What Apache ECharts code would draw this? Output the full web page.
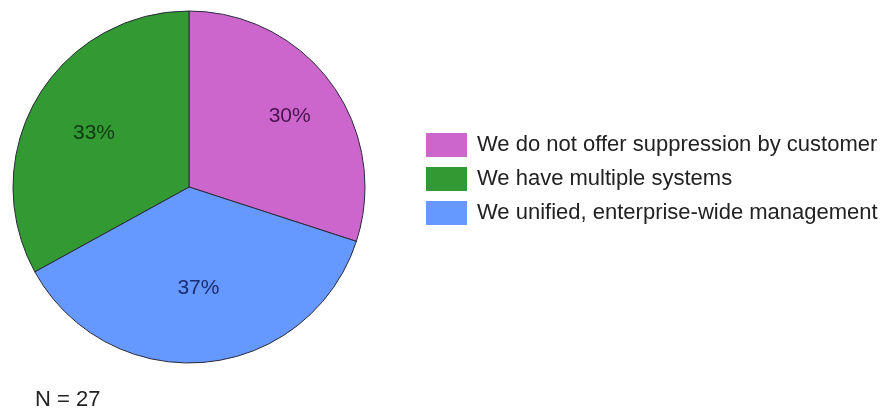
<!DOCTYPE html>
<html>
<head>
<meta charset="utf-8">
<script src="https://cdn.jsdelivr.net/npm/echarts@6/dist/echarts.min.js"></script>
<style>
  html, body { margin: 0; padding: 0; background: #ffffff; }
  #chart { width: 889px; height: 413px; }
</style>
</head>
<body>
<div id="chart"></div>
<script>
// Survey answers, in slice order (clockwise from 12 o'clock)
const categories = [
  'We do not offer suppression by customer',
  'We unified, enterprise-wide management',
  'We have multiple systems'
];
const shares = [30, 37, 33];
const legendOrder = [
  'We do not offer suppression by customer',
  'We have multiple systems',
  'We unified, enterprise-wide management'
];
const sampleNote = 'N = 27';

// Styling per slice
const sliceColors = ['#cc66cc', '#6699ff', '#339933'];
const labelColors = ['#4a1450', '#1a2c6e', '#0f3a12'];
const labelRadiusFraction = [0.69, 0.55, 0.61];

const outerRadius = 176;
const total = shares.reduce((a, b) => a + b, 0);

// Shift each percentage label outward along its slice's mid angle
let acc = 0;
const pieData = categories.map((name, i) => {
  const mid = (acc + shares[i] / 2) / total * 2 * Math.PI;
  acc += shares[i];
  const extra = outerRadius * (labelRadiusFraction[i] - 0.5);
  return {
    name: name,
    value: shares[i],
    itemStyle: { color: sliceColors[i] },
    label: {
      color: labelColors[i],
      offset: [extra * Math.sin(mid), -extra * Math.cos(mid) + 2]
    }
  };
});

const chart = echarts.init(document.getElementById('chart'), null, { renderer: 'canvas' });
chart.setOption({
  animation: false,
  title: {
    text: sampleNote,
    left: 35,
    top: 389,
    padding: 0,
    textStyle: {
      fontFamily: 'Liberation Sans, Arial, sans-serif',
      fontSize: 22,
      fontWeight: 'normal',
      color: '#222222'
    }
  },
  legend: {
    orient: 'vertical',
    left: 426,
    top: 133,
    padding: 0,
    itemWidth: 41,
    itemHeight: 24,
    itemGap: 10,
    icon: 'rect',
    selectedMode: false,
    data: legendOrder,
    itemStyle: { borderWidth: 0 },
    textStyle: {
      fontFamily: 'Liberation Sans, Arial, sans-serif',
      fontSize: 22,
      color: '#222222',
      padding: [0, 0, 0, 5]
    }
  },
  series: [{
    type: 'pie',
    center: [189, 187],
    radius: outerRadius,
    startAngle: 90,
    clockwise: true,
    silent: true,
    itemStyle: { borderColor: '#2a2a3a', borderWidth: 1 },
    label: {
      show: true,
      position: 'inside',
      formatter: '{c}%',
      fontFamily: 'Liberation Sans, Arial, sans-serif',
      fontSize: 21
    },
    labelLine: { show: false },
    emphasis: { disabled: true },
    data: pieData
  }]
});
</script>
</body>
</html>
